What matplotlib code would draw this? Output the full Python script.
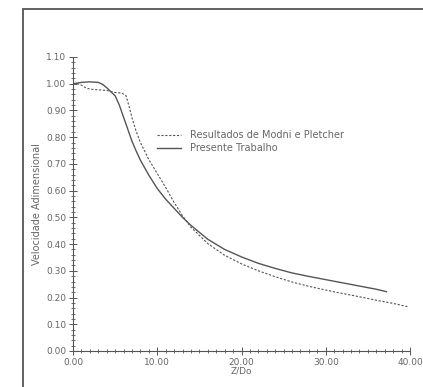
import matplotlib
matplotlib.use('Agg')
import matplotlib.pyplot as plt
from matplotlib.patches import Rectangle
from matplotlib.ticker import MultipleLocator, FormatStrFormatter

# Presente Trabalho (solid)
trab_x = [0, 1, 2, 3, 3.5, 4, 4.5, 5, 5.5, 6, 6.5, 7, 7.5, 8, 9, 10, 11, 12,
          13, 14, 16, 18, 20, 22, 24, 26, 28, 30, 32, 34, 36, 37.2]
trab_y = [1.0, 1.005, 1.007, 1.005, 0.998, 0.985, 0.97, 0.955, 0.92, 0.875,
          0.83, 0.785, 0.748, 0.714, 0.658, 0.608, 0.568, 0.534, 0.5, 0.47,
          0.418, 0.38, 0.352, 0.328, 0.309, 0.292, 0.279, 0.267, 0.255,
          0.243, 0.231, 0.222]

# Resultados de Modni e Pletcher (dashed)
modni_x = [0, 0.5, 1, 1.5, 2, 3, 4, 5, 5.8, 6.3, 6.7, 7, 7.5, 8, 9, 10, 11,
           12, 13, 14, 16, 18, 20, 22, 24, 26, 28, 30, 32, 34, 36, 38, 39.7]
modni_y = [1.0, 1.0, 0.995, 0.985, 0.98, 0.977, 0.975, 0.967, 0.965, 0.955,
           0.91, 0.872, 0.822, 0.78, 0.716, 0.664, 0.612, 0.556, 0.506, 0.463,
           0.402, 0.358, 0.326, 0.3, 0.278, 0.258, 0.242, 0.228, 0.215,
           0.203, 0.19, 0.178, 0.166]

col = '#555555'
txt = '#666666'
fig = plt.figure(figsize=(4.23, 3.87), dpi=100)
# outer frame (right and bottom sides fall outside the picture)
fig.patches.append(Rectangle((23/423, -0.1), 1.1, (1 - 9/387) + 0.1,
                             transform=fig.transFigure, fill=False,
                             edgecolor=col, linewidth=1.3))
ax = fig.add_axes([73/423, 1 - 351/387, 337/423, 294/387])

ax.plot(modni_x, modni_y, color=col, linestyle=(0, (2, 1.5)), linewidth=0.8,
        label='Resultados de Modni e Pletcher')
ax.plot(trab_x, trab_y, color=col, linestyle='-', linewidth=1.0,
        label='Presente Trabalho')

ax.set_xlim(0, 40)
ax.set_ylim(0, 1.1)
for s in ['top', 'right']:
    ax.spines[s].set_visible(False)
for s in ['left', 'bottom']:
    ax.spines[s].set_color(col)
    ax.spines[s].set_linewidth(0.8)

ax.xaxis.set_major_locator(MultipleLocator(10))
ax.xaxis.set_minor_locator(MultipleLocator(1))
ax.yaxis.set_major_locator(MultipleLocator(0.1))
ax.yaxis.set_minor_locator(MultipleLocator(0.02))
ax.xaxis.set_major_formatter(FormatStrFormatter('%.2f'))
ax.yaxis.set_major_formatter(FormatStrFormatter('%.2f'))
ax.tick_params(which='major', direction='inout', length=6, width=0.7,
               color=col, labelsize=6.5, labelcolor=txt, pad=2)
ax.tick_params(which='minor', direction='inout', length=3, width=0.6, color=col)

ax.set_xlabel('Z/Do', fontsize=6.5, color=txt, labelpad=0)
ax.set_ylabel('Velocidade Adimensional', fontsize=7, color=txt, labelpad=3)

ax.legend(loc='upper left', bbox_to_anchor=(0.249, 0.75), frameon=False,
          fontsize=7, handlelength=2.5, handletextpad=0.95, labelspacing=0.3,
          borderpad=0, borderaxespad=0, labelcolor=txt)

plt.savefig('out.png', dpi=100)
